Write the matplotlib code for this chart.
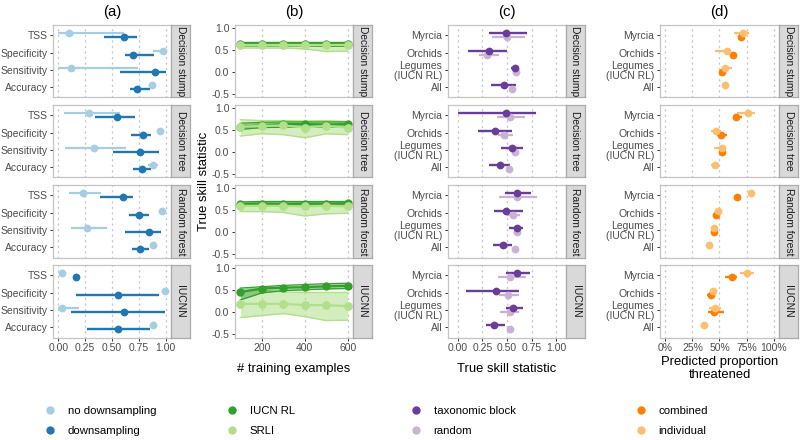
import numpy as np
import matplotlib
matplotlib.use("Agg")
import matplotlib.pyplot as plt
from matplotlib.lines import Line2D

plt.rcParams['font.family'] = ['Liberation Sans', 'DejaVu Sans']

# ---------------- data ----------------
models = ['Decision stump', 'Decision tree', 'Random forest', 'IUCNN']

# panel (a)
metrics = ['TSS', 'Specificity', 'Sensitivity', 'Accuracy']
a_nods_mid = [[0.10, 0.975, 0.12, 0.875], [0.285, 0.95, 0.335, 0.88],
              [0.23, 0.965, 0.265, 0.885], [0.03, 0.995, 0.035, 0.88]]
a_nods_lo = [[0.00, 0.885, 0.00, 0.85], [0.05, 0.92, 0.06, 0.84],
             [0.10, 0.955, 0.115, 0.875], [0.03, 0.995, 0.00, 0.86]]
a_nods_hi = [[0.61, 0.975, 0.745, 0.895], [0.57, 0.98, 0.63, 0.93],
             [0.40, 0.975, 0.45, 0.895], [0.03, 0.995, 0.195, 0.90]]
a_ds_mid = [[0.61, 0.70, 0.90, 0.73], [0.55, 0.785, 0.76, 0.78],
            [0.60, 0.75, 0.845, 0.765], [0.165, 0.555, 0.61, 0.56]]
a_ds_lo = [[0.43, 0.62, 0.57, 0.67], [0.34, 0.68, 0.51, 0.70],
           [0.39, 0.66, 0.62, 0.69], [0.165, 0.165, 0.115, 0.27]]
a_ds_hi = [[0.73, 0.89, 1.00, 0.855], [0.71, 0.86, 0.94, 0.86],
           [0.70, 0.845, 0.955, 0.845], [0.165, 0.94, 0.99, 0.85]]
a_labels = ['no downsampling', 'downsampling']

# panel (b)
n_train = [100, 200, 300, 400, 500, 600]
b_rl_mid = [[0.64, 0.64, 0.64, 0.64, 0.64, 0.64],
            [0.58, 0.61, 0.64, 0.64, 0.63, 0.64],
            [0.64, 0.65, 0.64, 0.65, 0.65, 0.66],
            [0.46, 0.54, 0.56, 0.57, 0.59, 0.60]]
b_rl_lo = [[0.60, 0.60, 0.60, 0.60, 0.59, 0.59],
           [0.52, 0.56, 0.57, 0.57, 0.57, 0.58],
           [0.60, 0.61, 0.60, 0.61, 0.61, 0.62],
           [0.28, 0.44, 0.49, 0.51, 0.53, 0.54]]
b_rl_hi = [[0.68, 0.68, 0.68, 0.68, 0.68, 0.68],
           [0.66, 0.68, 0.69, 0.69, 0.69, 0.69],
           [0.69, 0.70, 0.70, 0.70, 0.70, 0.70],
           [0.55, 0.58, 0.61, 0.63, 0.65, 0.66]]
b_srli_mid = [[0.61, 0.61, 0.61, 0.61, 0.61, 0.61],
              [0.58, 0.60, 0.61, 0.56, 0.60, 0.56],
              [0.60, 0.60, 0.60, 0.59, 0.60, 0.59],
              [0.19, 0.19, 0.19, 0.165, 0.16, 0.14]]
b_srli_lo = [[0.55, 0.55, 0.55, 0.53, 0.47, 0.48],
             [0.37, 0.42, 0.40, 0.33, 0.42, 0.40],
             [0.47, 0.47, 0.45, 0.37, 0.42, 0.43],
             [-0.12, -0.075, -0.03, -0.10, -0.19, -0.18]]
b_srli_hi = [[0.69, 0.69, 0.69, 0.69, 0.69, 0.69],
             [0.74, 0.72, 0.72, 0.71, 0.72, 0.70],
             [0.68, 0.68, 0.68, 0.68, 0.68, 0.68],
             [0.46, 0.50, 0.46, 0.45, 0.45, 0.45]]
b_labels = ['IUCN RL', 'SRLI']

# panel (c) and (d)
groups = ['Myrcia', 'Orchids', 'Legumes\n(IUCN RL)', 'All']
c_tax_mid = [[0.486, 0.32, 0.58, 0.465], [0.49, 0.375, 0.55, 0.425],
             [0.60, 0.485, 0.60, 0.46], [0.60, 0.385, 0.56, 0.37]]
c_tax_lo = [[0.32, 0.10, 0.545, 0.34], [0.00, 0.20, 0.44, 0.32],
            [0.48, 0.365, 0.52, 0.355], [0.49, 0.08, 0.49, 0.29]]
c_tax_hi = [[0.70, 0.50, 0.62, 0.59], [0.79, 0.555, 0.665, 0.53],
            [0.745, 0.66, 0.66, 0.55], [0.73, 0.62, 0.66, 0.48]]
c_rnd_mid = [[0.50, 0.30, 0.59, 0.55], [0.535, 0.47, 0.58, 0.525],
             [0.60, 0.56, 0.60, 0.58], [0.53, 0.515, 0.53, 0.535]]
c_rnd_lo = [[0.35, 0.22, 0.57, 0.53], [0.395, 0.405, 0.56, 0.51],
            [0.415, 0.505, 0.58, 0.57], [0.405, 0.415, 0.43, 0.52]]
c_rnd_hi = [[0.68, 0.42, 0.61, 0.57], [0.68, 0.56, 0.60, 0.54],
            [0.80, 0.63, 0.62, 0.59], [0.69, 0.62, 0.62, 0.55]]
c_labels = ['taxonomic block', 'random']

nan = np.nan
d_comb_mid = [[0.70, 0.625, 0.526, nan], [0.65, 0.515, 0.523, nan],
              [0.665, 0.465, 0.45, nan], [0.62, 0.42, 0.45, nan]]
d_comb_lo = [[0.69, 0.62, 0.52, nan], [0.65, 0.48, 0.52, nan],
             [0.665, 0.465, 0.45, nan], [0.55, 0.38, 0.39, nan]]
d_comb_hi = [[0.71, 0.63, 0.53, nan], [0.71, 0.57, 0.53, nan],
             [0.665, 0.465, 0.45, nan], [0.66, 0.455, 0.545, nan]]
d_ind_mid = [[0.717, 0.57, 0.55, 0.55], [0.76, 0.47, 0.52, 0.46],
             [0.795, 0.49, 0.45, 0.40], [0.75, 0.44, 0.455, 0.36]]
d_ind_lo = [[0.63, 0.46, 0.52, 0.52], [0.66, 0.42, 0.445, 0.42],
            [0.795, 0.49, 0.45, 0.40], [0.69, 0.43, 0.40, 0.36]]
d_ind_hi = [[0.77, 0.60, 0.615, 0.59], [0.825, 0.51, 0.54, 0.49],
            [0.795, 0.49, 0.45, 0.40], [0.815, 0.45, 0.51, 0.36]]
d_labels = ['combined', 'individual']

pct_ticks = [0, 0.25, 0.5, 0.75, 1.0]
pct_labels = ['0%', '25%', '50%', '75%', '100%']

# ---------------- styling ----------------
BLUE_L, BLUE_D = '#A6CEE3', '#1F78B4'
GREEN_D, GREEN_L = '#33A02C', '#B2DF8A'
PURP_D, PURP_L = '#6A3D9A', '#CAB2D6'
ORA_D, ORA_L = '#FF7F00', '#FDBF6F'

W, H = 800, 440
fig = plt.figure(figsize=(8, 4.4), dpi=100)

row_tops = [25, 105, 185, 265]
row_h = 72.5
cols = {'a': (53, 171), 'b': (235, 353), 'c': (448, 566), 'd': (660, 779)}
strip_w = 19
TICK_FS = 7.5
TICK_C = '#4D4D4D'
BORDER_C = '#C4C4C4'
GRID_C = '#C8C8C8'


def px_axes(x0, x1, y0, y1, **kw):
    return fig.add_axes([x0 / W, 1 - y1 / H, (x1 - x0) / W, (y1 - y0) / H], **kw)


def style(ax, bottom):
    for s in ax.spines.values():
        s.set_color(BORDER_C)
        s.set_linewidth(0.9)
    ax.tick_params(axis='both', length=2.2, width=0.7, color='#333333',
                   labelsize=TICK_FS, labelcolor=TICK_C, pad=1.8)
    if not bottom:
        ax.tick_params(axis='x', length=0, labelbottom=False)
    ax.grid(axis='x', color=GRID_C, linestyle=(0, (0.8, 3.2)), linewidth=1.0,
            dash_capstyle='round')
    ax.set_axisbelow(True)


def strip(x1, y0, label):
    sa = px_axes(x1, x1 + strip_w, y0, y0 + row_h)
    sa.set_facecolor('#D9D9D9')
    sa.set_xticks([])
    sa.set_yticks([])
    for s in sa.spines.values():
        s.set_color('#ABABAB')
        s.set_linewidth(0.9)
    sa.text(0.5, 0.5, label, rotation=-90, ha='center', va='center',
            fontsize=7.4, color='#1A1A1A', transform=sa.transAxes)


DODGE = 0.12
pos = np.array([4, 3, 2, 1], dtype=float)


def dot_panel(ax, mids, los, his, colors, offs, lws):
    for mid, lo, hi, c, off, lw in zip(mids, los, his, colors, offs, lws):
        y = pos + off
        ax.hlines(y, lo, hi, color=c, lw=lw, zorder=2)
        ax.plot(mid, y, 'o', color=c, ms=5.6, mew=0, ls='none', zorder=3)


axes_bottom = {}
for col in ['a', 'b', 'c', 'd']:
    x0, x1 = cols[col]
    for r, m in enumerate(models):
        y0 = row_tops[r]
        ax = px_axes(x0, x1, y0, y0 + row_h)
        bottom = (r == 3)
        style(ax, bottom)
        if col == 'a':
            dot_panel(ax, [a_nods_mid[r], a_ds_mid[r]], [a_nods_lo[r], a_ds_lo[r]],
                      [a_nods_hi[r], a_ds_hi[r]], [BLUE_L, BLUE_D],
                      [DODGE, -DODGE], [1.6, 1.7])
            ax.set_yticks(pos)
            ax.set_yticklabels(metrics)
            ax.set_xlim(-0.05, 1.05)
            ax.set_ylim(0.4, 4.6)
            ax.set_xticks([0, 0.25, 0.5, 0.75, 1.0])
            ax.set_xticklabels(['0.00', '0.25', '0.50', '0.75', '1.00'])
        elif col == 'b':
            ax.fill_between(n_train, b_srli_lo[r], b_srli_hi[r], color=GREEN_L,
                            alpha=0.55, lw=0, zorder=1)
            ax.plot(n_train, b_srli_lo[r], color=GREEN_L, lw=1.0, zorder=1.5)
            ax.plot(n_train, b_srli_hi[r], color=GREEN_L, lw=1.0, zorder=1.5)
            ax.fill_between(n_train, b_rl_lo[r], b_rl_hi[r], color=GREEN_D,
                            alpha=0.45, lw=0, zorder=1.6)
            ax.plot(n_train, b_rl_lo[r], color=GREEN_D, lw=0.9, zorder=1.7)
            ax.plot(n_train, b_rl_hi[r], color=GREEN_D, lw=0.9, zorder=1.7)
            ax.plot(n_train, b_rl_mid[r], '-o', color=GREEN_D, lw=1.6, ms=6.0,
                    mew=0, zorder=3)
            ax.plot(n_train, b_srli_mid[r], '-o', color=GREEN_L, lw=1.6, ms=6.3,
                    mew=0, zorder=3.5)
            ax.set_xlim(75, 625)
            ax.set_ylim(-0.575, 1.075)
            ax.set_xticks([200, 400, 600])
            ax.set_yticks([1.0, 0.5, 0.0, -0.5])
            ax.set_yticklabels(['1.0', '0.5', '0.0', '-0.5'])
        elif col == 'c':
            dot_panel(ax, [c_rnd_mid[r], c_tax_mid[r]], [c_rnd_lo[r], c_tax_lo[r]],
                      [c_rnd_hi[r], c_tax_hi[r]], [PURP_L, PURP_D],
                      [-DODGE, DODGE], [1.6, 1.7])
            ax.set_yticks(pos)
            ax.set_yticklabels(groups, linespacing=1.0)
            ax.set_xlim(-0.1, 1.1)
            ax.set_ylim(0.4, 4.6)
            ax.set_xticks([0, 0.25, 0.5, 0.75, 1.0])
            ax.set_xticklabels(['0.00', '0.25', '0.50', '0.75', '1.00'])
        else:
            dot_panel(ax, [d_comb_mid[r], d_ind_mid[r]], [d_comb_lo[r], d_ind_lo[r]],
                      [d_comb_hi[r], d_ind_hi[r]], [ORA_D, ORA_L],
                      [-DODGE, DODGE], [1.7, 1.6])
            ax.set_yticks(pos)
            ax.set_yticklabels(groups, linespacing=1.0)
            ax.set_xlim(-0.05, 1.05)
            ax.set_ylim(0.4, 4.6)
            ax.set_xticks(pct_ticks)
            ax.set_xticklabels(pct_labels)
        strip(x1, y0, m)
        if bottom:
            axes_bottom[col] = ax

# axis titles
AX_FS = 9.4
axes_bottom['b'].set_xlabel('# training examples', fontsize=AX_FS, va='top')
axes_bottom['b'].xaxis.set_label_coords(0.5, -0.345)
axes_bottom['c'].set_xlabel('True skill statistic', fontsize=AX_FS, va='top')
axes_bottom['c'].xaxis.set_label_coords(0.5, -0.345)
axes_bottom['d'].set_xlabel('Predicted proportion\nthreatened', fontsize=AX_FS,
                            va='top', linespacing=1.05)
axes_bottom['d'].xaxis.set_label_coords(0.5, -0.26)
fig.text(204 / W, 1 - 181 / H, 'True skill statistic', rotation=90,
         ha='center', va='center', fontsize=AX_FS)

# panel titles
for col, t in zip(['a', 'b', 'c', 'd'], ['(a)', '(b)', '(c)', '(d)']):
    x0, x1 = cols[col]
    fig.text((x0 + x1) / 2 / W, 1 - 12 / H, t, ha='center', va='center', fontsize=10.8)

# legends
LEG_FS = 8.2
leg_specs = [(a_labels, [BLUE_L, BLUE_D], 44.3),
             (b_labels, [GREEN_D, GREEN_L], 226.3),
             (c_labels, [PURP_D, PURP_L], 410.3),
             (d_labels, [ORA_D, ORA_L], 635.3)]
for labels, colors, lx in leg_specs:
    handles = [Line2D([], [], marker='o', ls='none', color=c, ms=6, mew=0)
               for c in colors]
    fig.legend(handles, labels, loc='upper left',
               bbox_to_anchor=(lx / W, 1 - 406 / H), frameon=False,
               fontsize=LEG_FS, handlelength=1.0, handletextpad=1.05,
               labelspacing=0.9, borderpad=0, borderaxespad=0)

fig.savefig('out.png', dpi=100)
